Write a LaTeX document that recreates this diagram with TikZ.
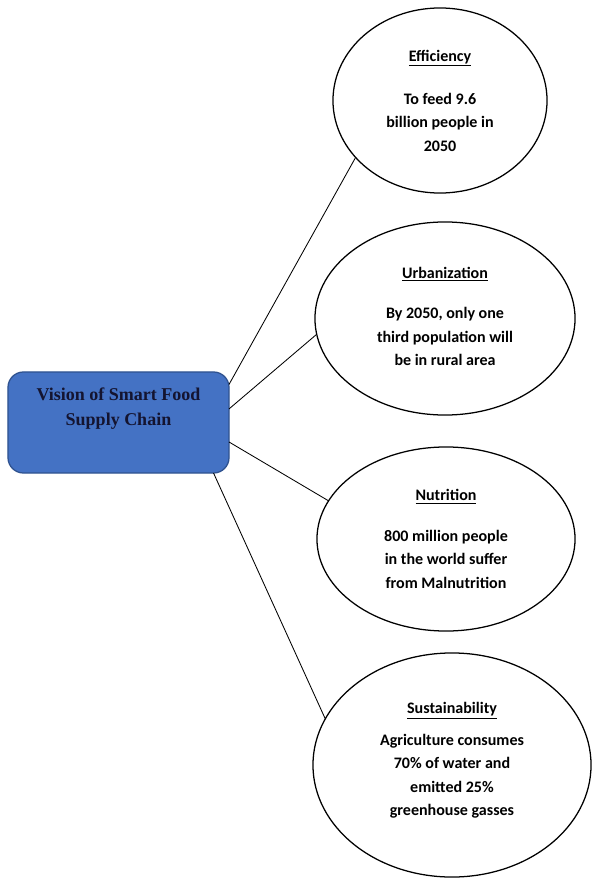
\documentclass[tikz,border=0pt]{standalone}
\usepackage{fontspec}
\setmainfont{Carlito}
\newfontfamily\boxfont{Liberation Serif}
\usetikzlibrary{shapes.geometric}
\definecolor{boxfill}{HTML}{4472C4}
\definecolor{boxline}{HTML}{2F528F}
\definecolor{boxink}{RGB}{20,20,48}
\tikzset{
  goal/.style={draw, ellipse, line width=0.9pt, inner sep=0pt, outer sep=0pt,
    align=center, font=\fontsize{11.4}{16.7}\selectfont\bfseries},
  vision/.style={draw=boxline, fill=boxfill, line width=0.9pt, rounded corners=11pt,
    inner sep=0pt, outer sep=0pt},
  link/.style={line width=0.6pt}
}

\begin{document}
\begin{tikzpicture}[x=0.025cm, y=-0.025cm]
		%%%%% START %%%%%
		\useasboundingbox (0, 0) rectangle (592, 880);
		
		\node[vision, minimum width=5.525cm, minimum height=2.525cm] (vision) at (118.5, 422.5) {};
		\node[align=center, text=boxink, font=\boxfont\fontsize{12.8}{17.8}\selectfont\bfseries] (visiontext) at (118.5, 409) {Vision of Smart Food\\Supply Chain};
		
		\node[goal, minimum width=5.35cm, minimum height=4.625cm] (eff) at (440, 100.5)
			{\underline{Efficiency}\\[14pt]To feed 9.6\\billion people in\\2050};
		\node[goal, minimum width=6.5cm, minimum height=4.825cm] (urb) at (445, 318.5)
			{\underline{Urbanization}\\[12pt]By 2050, only one\\third population will\\be in rural area\\[-14pt]\mbox{}};
		\node[goal, minimum width=6.45cm, minimum height=4.6cm] (nut) at (446, 539)
			{\underline{Nutrition}\\[12pt]800 million people\\in the world suffer\\from Malnutrition};
		\node[goal, minimum width=6.95cm, minimum height=5.6cm] (sus) at (452, 765)
			{\underline{Sustainability}\\[6pt]Agriculture consumes\\70\% of water and\\emitted 25\%\\greenhouse gasses\\[-8pt]\mbox{}};
		
		\draw[link] (vision.19.7) -- (eff.214);
		\draw[link] (vision.7.5) -- (urb.187);
		\draw[link] (vision.-10.5) -- (nut.162.7);
		\draw[link] (vision.-28.6) -- (sus.160.8);
		
		%%%%% END %%%%%
	\end{tikzpicture}
\end{document}
